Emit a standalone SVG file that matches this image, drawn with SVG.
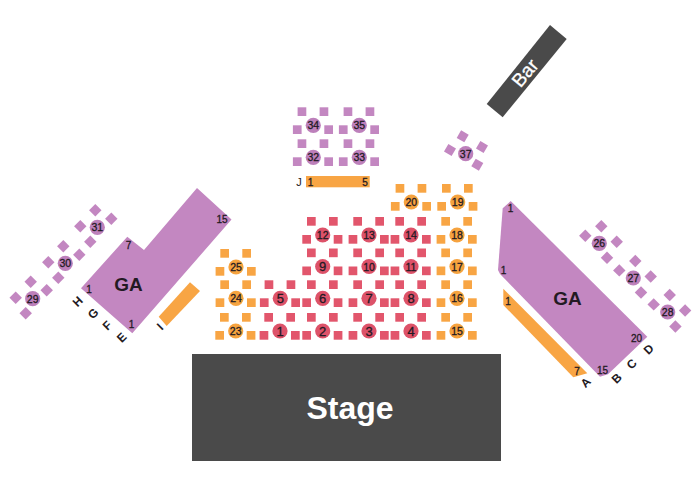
<svg xmlns="http://www.w3.org/2000/svg" width="700" height="500" viewBox="0 0 700 500">
<style>
text{font-family:"Liberation Sans",Arial,sans-serif;font-weight:400;fill:#231a23;text-anchor:middle;dominant-baseline:central}
.n{font-size:10.5px;stroke:#231a23;stroke-width:.3px}
.d{font-size:13px;stroke:#231a23;stroke-width:.3px}
.s{font-size:10px;stroke:#231a23;stroke-width:.3px}
.l{font-size:12px;font-weight:700}
.ga{font-size:19px;font-weight:700}
.r{fill:#e2566c}.o{fill:#f8a544}.p{fill:#c387c1}
.rc{fill:#dd5269}.oc{fill:#f6a33f}.pc{fill:#bd80bb}
</style>
<defs>
<g id="sq"><rect x="-15.7" y="-18" width="8.7" height="8.7"/><rect x="6.3" y="-18" width="8.7" height="8.7"/><rect x="-20.4" y="0" width="8.7" height="8.7"/><rect x="11" y="0" width="8.7" height="8.7"/></g>
<rect id="k" x="-4.4" y="-4.4" width="8.8" height="8.8"/>
<g id="dl" class="p"><use href="#k" transform="translate(-2,-17) rotate(45)"/><use href="#k" transform="translate(14,-8.5) rotate(45)"/><use href="#k" transform="translate(-17,-1) rotate(45)"/><use href="#k" transform="translate(-7,14.5) rotate(45)"/></g>
<g id="dr" class="p"><use href="#k" transform="translate(2,-17) rotate(45)"/><use href="#k" transform="translate(17.4,-1.5) rotate(45)"/><use href="#k" transform="translate(-14,-7.6) rotate(45)"/><use href="#k" transform="translate(7.7,14.5) rotate(45)"/></g>
<g id="R"><use href="#sq" class="r"/><circle r="7.6" class="rc"/></g>
<g id="O"><use href="#sq" class="o"/><circle r="7.6" class="oc"/></g>
<g id="P"><use href="#sq" class="p"/><circle r="7.6" class="pc"/></g>
</defs>
<rect width="700" height="500" fill="#fff"/>
<g id="stage"><rect x="192" y="354" width="309" height="107" fill="#4a4a4a"/><text x="350" y="408" style="font-size:32px;font-weight:700;fill:#fff">Stage</text></g>
<g id="bar"><polygon points="550,25 566.7,39 502.7,117.3 486.7,104" fill="#4a4a4a"/><text transform="translate(525,73) rotate(-50)" style="font-size:19px;fill:#fff;stroke:#fff;stroke-width:.3px">Bar</text></g>
<g id="ga-left"><polygon class="p" points="197,188 231.5,219.5 132.3,333.3 81,288.3 127.3,236.7 144,250"/><text class="ga" x="128.5" y="284">GA</text><text class="s" x="222" y="219">15</text><text class="s" x="128.5" y="245">7</text><text class="s" x="89" y="289">1</text><text class="s" x="131.5" y="324">1</text></g>
<g id="section-i"><polygon class="o" points="190,282.3 200,291 166.7,326 158.7,316.7"/></g>
<g id="ga-right"><polygon class="p" points="510.7,201 502.7,208.3 498,270 500,274 600,376.7 608,374.3 647.3,336.7"/><text class="ga" x="567.5" y="298">GA</text><text class="s" x="510.5" y="208.5">1</text><text class="s" x="503.5" y="270">1</text><text class="s" x="636.5" y="338.5">20</text><text class="s" x="602.5" y="370">15</text></g>
<g id="section-a"><polygon class="o" points="503.3,288.7 587.3,373.3 573.3,377.3 503.3,305"/><text class="s" x="508" y="301">1</text><text class="s" x="577" y="371">7</text></g>
<g id="section-j"><rect class="o" x="306" y="176" width="63.7" height="11.3"/><text class="s" x="310.5" y="182">1</text><text class="s" x="365" y="182">5</text><text x="299" y="182" style="font-size:11px">J</text></g>
<g id="row-labels">
<text class="l" transform="translate(77.7,301.5) rotate(-45)">H</text><text class="l" transform="translate(93.3,313.5) rotate(-45)">G</text><text class="l" transform="translate(107.3,325.7) rotate(-45)">F</text><text class="l" transform="translate(121.7,337.5) rotate(-45)">E</text><text class="l" transform="translate(160,326.7) rotate(-45)">I</text>
<text class="l" transform="translate(585.7,382.7) rotate(-45)">A</text><text class="l" transform="translate(616.7,378.3) rotate(-45)">B</text><text class="l" transform="translate(631.7,364) rotate(-45)">C</text><text class="l" transform="translate(648.7,349.3) rotate(-45)">D</text>
</g>
<g id="t1" transform="translate(280,331)"><use href="#R"/><text class="d">1</text></g>
<g id="t2" transform="translate(322.7,331)"><use href="#R"/><text class="d">2</text></g>
<g id="t3" transform="translate(369,331)"><use href="#R"/><text class="d">3</text></g>
<g id="t4" transform="translate(411,331)"><use href="#R"/><text class="d">4</text></g>
<g id="t5" transform="translate(280.3,298.3)"><use href="#R"/><text class="d">5</text></g>
<g id="t6" transform="translate(322.7,298.3)"><use href="#R"/><text class="d">6</text></g>
<g id="t7" transform="translate(369,298.3)"><use href="#R"/><text class="d">7</text></g>
<g id="t8" transform="translate(411,298.3)"><use href="#R"/><text class="d">8</text></g>
<g id="t9" transform="translate(322.7,266.5)"><use href="#R"/><text class="d">9</text></g>
<g id="t10" transform="translate(369,266.5)"><use href="#R"/><text class="n">10</text></g>
<g id="t11" transform="translate(411,266.5)"><use href="#R"/><text class="n">11</text></g>
<g id="t12" transform="translate(322.7,235)"><use href="#R"/><text class="n">12</text></g>
<g id="t13" transform="translate(369,235)"><use href="#R"/><text class="n">13</text></g>
<g id="t14" transform="translate(411,235)"><use href="#R"/><text class="n">14</text></g>
<g id="t15" transform="translate(457,331)"><use href="#O"/><text class="n">15</text></g>
<g id="t16" transform="translate(457,298.3)"><use href="#O"/><text class="n">16</text></g>
<g id="t17" transform="translate(457,266.5)"><use href="#O"/><text class="n">17</text></g>
<g id="t18" transform="translate(457,235)"><use href="#O"/><text class="n">18</text></g>
<g id="t19" transform="translate(457.7,202)"><use href="#O"/><text class="n">19</text></g>
<g id="t20" transform="translate(411.3,202)"><use href="#O"/><text class="n">20</text></g>
<g id="t23" transform="translate(235.7,331)"><use href="#O"/><text class="n">23</text></g>
<g id="t24" transform="translate(236,298.3)"><use href="#O"/><text class="n">24</text></g>
<g id="t25" transform="translate(236,267)"><use href="#O"/><text class="n">25</text></g>
<g id="t26" transform="translate(599.3,243.3)"><use href="#dr"/><circle r="7.6" class="pc"/><text class="n">26</text></g>
<g id="t27" transform="translate(633.3,278)"><use href="#dr"/><circle r="7.6" class="pc"/><text class="n">27</text></g>
<g id="t28" transform="translate(667.7,312)"><use href="#dr"/><circle r="7.6" class="pc"/><text class="n">28</text></g>
<g id="t29" transform="translate(32.7,298.7)"><use href="#dl"/><circle r="7.6" class="pc"/><text class="n">29</text></g>
<g id="t30" transform="translate(65.3,263.3)"><use href="#dl"/><circle r="7.6" class="pc"/><text class="n">30</text></g>
<g id="t31" transform="translate(97.3,227.3)"><use href="#dl"/><circle r="7.6" class="pc"/><text class="n">31</text></g>
<g id="t32" transform="translate(313.3,157.3)"><use href="#P"/><text class="n">32</text></g>
<g id="t33" transform="translate(359.3,157.3)"><use href="#P"/><text class="n">33</text></g>
<g id="t34" transform="translate(313.3,125.3)"><use href="#P"/><text class="n">34</text></g>
<g id="t35" transform="translate(359.3,125.3)"><use href="#P"/><text class="n">35</text></g>
<g id="t37" transform="translate(465.7,153.7)"><g class="p"><use href="#k" transform="translate(-3,-17.4) rotate(30)"/><use href="#k" transform="translate(16.3,-6.7) rotate(30)"/><use href="#k" transform="translate(-15.7,-3.7) rotate(30)"/><use href="#k" transform="translate(11.6,11) rotate(30)"/></g><circle r="7.6" class="pc"/><text class="n">37</text></g>
<g id="connectors"/>
</svg>
